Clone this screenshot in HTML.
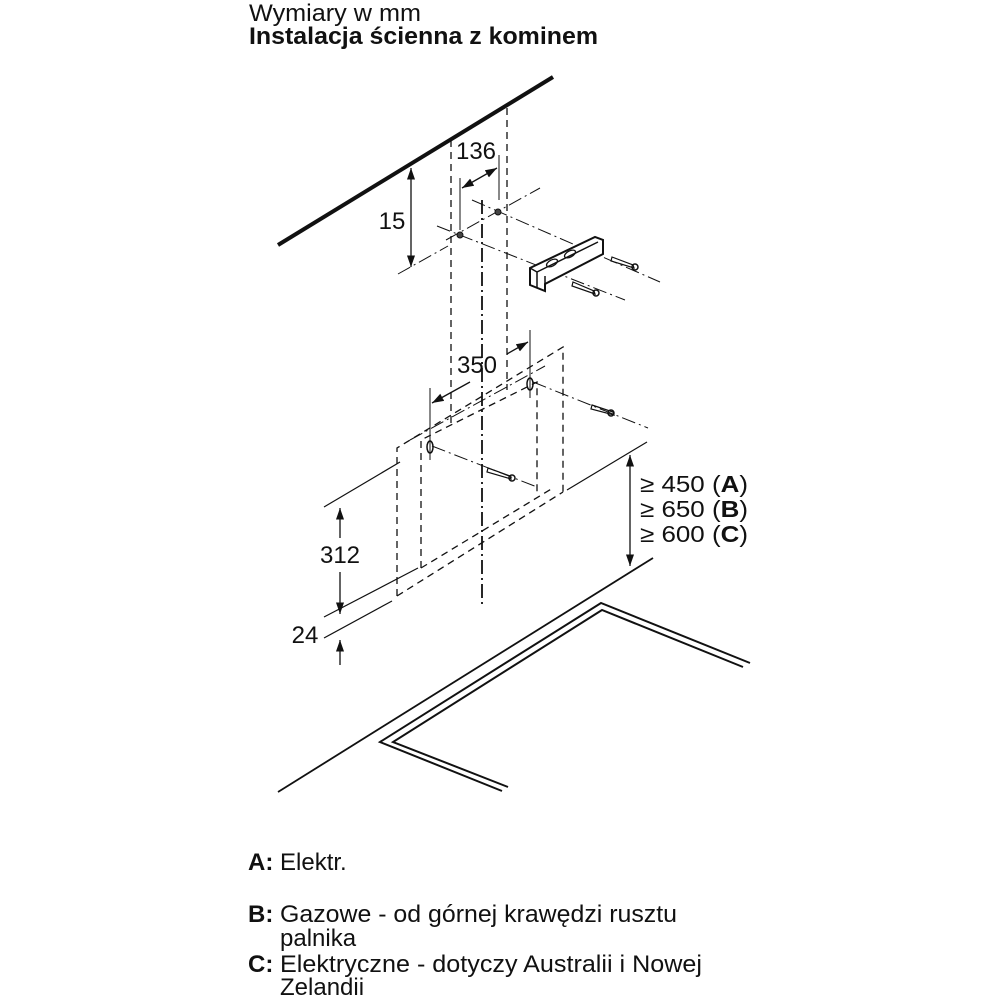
<!DOCTYPE html>
<html><head><meta charset="utf-8"><style>
html,body{margin:0;padding:0;background:#fff}
svg{display:block}
text{font-family:"Liberation Sans",sans-serif;fill:#111}
</style></head><body>
<svg width="1000" height="1000" viewBox="0 0 1000 1000" xmlns="http://www.w3.org/2000/svg">
<defs>
<marker id="ar" viewBox="0 0 10 10" refX="10" refY="5" markerWidth="9" markerHeight="9" orient="auto-start-reverse"><path d="M0,1.5 L10,5 L0,8.5 z" fill="#111"/></marker>
</defs>
<text x="249" y="21" font-size="24" textLength="172" lengthAdjust="spacingAndGlyphs">Wymiary w mm</text>
<text x="249" y="44" font-size="24" font-weight="bold" textLength="349" lengthAdjust="spacingAndGlyphs">Instalacja ścienna z kominem</text>

<g stroke="#111" fill="none">
<line x1="278" y1="245" x2="553" y2="77" stroke-width="4"/>
<line x1="451" y1="140" x2="451" y2="425" stroke-width="1.3" stroke-dasharray="7,5"/>
<line x1="507" y1="108" x2="507" y2="390" stroke-width="1.3" stroke-dasharray="7,5"/>
<line x1="482" y1="200" x2="482" y2="605" stroke-width="1.8" stroke-dasharray="14,4,2,4"/>
<line x1="411" y1="168" x2="411" y2="267" stroke-width="1.3" marker-start="url(#ar)" marker-end="url(#ar)"/>
<line x1="398" y1="274" x2="448" y2="246" stroke-width="1" stroke-dasharray="14,4,2,4"/>
<line x1="460" y1="178" x2="460" y2="230" stroke-width="1"/>
<line x1="499" y1="155" x2="499" y2="200" stroke-width="1"/>
<line x1="462" y1="188" x2="497" y2="168" stroke-width="1.3" marker-start="url(#ar)" marker-end="url(#ar)"/>
<line x1="437" y1="226" x2="625" y2="300" stroke-width="1" stroke-dasharray="14,4,2,4"/>
<line x1="472" y1="200" x2="660" y2="282" stroke-width="1" stroke-dasharray="14,4,2,4"/>
<line x1="446" y1="240" x2="540" y2="188" stroke-width="1" stroke-dasharray="14,4,2,4"/>
<circle cx="460" cy="235" r="3" fill="#444"/>
<circle cx="498" cy="212" r="3" fill="#444"/>
<path d="M530,268 L595,237 L603,240 L603,254 L545,284 L545,291 L530,285 Z" stroke-width="2" fill="#fff"/>
<path d="M530,268 L537,272 L537,288 M537,272 L598,242 M545,284 L545,276" stroke-width="1.5"/>
<ellipse cx="552" cy="263" rx="6" ry="3" transform="rotate(-28 552 263)" stroke-width="1.3"/>
<ellipse cx="570" cy="254" rx="6" ry="3" transform="rotate(-28 570 254)" stroke-width="1.3"/>
<path d="M612,257 L633,265 L634,268 L611,261 Z" stroke-width="1.2"/><circle cx="635" cy="267" r="3" stroke-width="1.5"/>
<path d="M573,282 L594,291 L595,294 L572,286 Z" stroke-width="1.2"/><circle cx="596" cy="293" r="3" stroke-width="1.5"/>

<line x1="430" y1="388" x2="430" y2="460" stroke-width="1"/>
<line x1="530" y1="330" x2="530" y2="398" stroke-width="1"/>
<line x1="432" y1="403" x2="470" y2="382" stroke-width="1.3" marker-start="url(#ar)"/>
<line x1="507" y1="354" x2="528" y2="342" stroke-width="1.3" marker-end="url(#ar)"/>
<path d="M397,596 L397,448 L563,347 L563,492" stroke-width="1.3" stroke-dasharray="7,5"/>
<path d="M421,568 L421,440 L537,382 L537,492" stroke-width="1.3" stroke-dasharray="7,5"/>
<line x1="397" y1="596" x2="563" y2="492" stroke-width="1.3" stroke-dasharray="7,5"/>
<line x1="421" y1="568" x2="553" y2="488" stroke-width="1.3" stroke-dasharray="7,5"/>
<line x1="410" y1="440" x2="545" y2="366" stroke-width="1" stroke-dasharray="14,4,2,4"/>
<line x1="432" y1="446" x2="537" y2="487" stroke-width="1" stroke-dasharray="14,4,2,4"/>
<line x1="533" y1="382" x2="648" y2="428" stroke-width="1" stroke-dasharray="14,4,2,4"/>
<ellipse cx="430" cy="447" rx="3" ry="6" stroke-width="1.5"/>
<ellipse cx="530" cy="384" rx="3" ry="6" stroke-width="1.5"/>
<path d="M488,468 L510,476 L511,479 L487,472 Z" stroke-width="1.2"/><circle cx="512" cy="478" r="3" stroke-width="1.5"/>
<path d="M592,405 L613,412 L614,415 L591,409 Z" stroke-width="1.2"/><circle cx="611" cy="413" r="3" stroke-width="1.5"/>
<line x1="324" y1="507" x2="400" y2="462" stroke-width="1.2"/>
<line x1="567" y1="490" x2="647" y2="442" stroke-width="1.2"/>
<line x1="324" y1="617" x2="418" y2="568" stroke-width="1.2"/>
<line x1="324" y1="638" x2="392" y2="601" stroke-width="1.2"/>
<line x1="340" y1="508" x2="340" y2="538" stroke-width="1.3" marker-start="url(#ar)"/>
<line x1="340" y1="572" x2="340" y2="614" stroke-width="1.3" marker-end="url(#ar)"/>
<line x1="340" y1="640" x2="340" y2="665" stroke-width="1.3" marker-start="url(#ar)"/>
<line x1="630" y1="455" x2="630" y2="566" stroke-width="1.3" marker-start="url(#ar)" marker-end="url(#ar)"/>
<line x1="278" y1="792" x2="653" y2="558" stroke-width="1.8"/>
<path d="M502,791 L380,742 L601,603 L750,663" stroke-width="2"/>
<path d="M508,787 L393,742 L602,610 L743,667" stroke-width="2"/>
</g>
<g font-size="24" text-anchor="middle">
<text x="392" y="229">15</text>
<text x="476" y="159">136</text>
<text x="477" y="373">350</text>
<text x="340" y="563">312</text>
<text x="305" y="643">24</text>
</g>
<g font-size="23">
<text x="640" y="492" textLength="108" lengthAdjust="spacingAndGlyphs">≥ 450 (<tspan font-weight="bold">A</tspan>)</text>
<text x="640" y="517" textLength="108" lengthAdjust="spacingAndGlyphs">≥ 650 (<tspan font-weight="bold">B</tspan>)</text>
<text x="640" y="542" textLength="108" lengthAdjust="spacingAndGlyphs">≥ 600 (<tspan font-weight="bold">C</tspan>)</text>
</g>
<g font-size="24">
<text x="248" y="870" font-weight="bold">A:</text><text x="280" y="870">Elektr.</text>
<text x="248" y="922" font-weight="bold">B:</text><text x="280" y="922" textLength="397" lengthAdjust="spacingAndGlyphs">Gazowe - od górnej krawędzi rusztu</text>
<text x="280" y="946">palnika</text>
<text x="248" y="972" font-weight="bold">C:</text><text x="280" y="972" textLength="422" lengthAdjust="spacingAndGlyphs">Elektryczne - dotyczy Australii i Nowej</text>
<text x="280" y="995">Zelandii</text>
</g>
</svg>
</body></html>
